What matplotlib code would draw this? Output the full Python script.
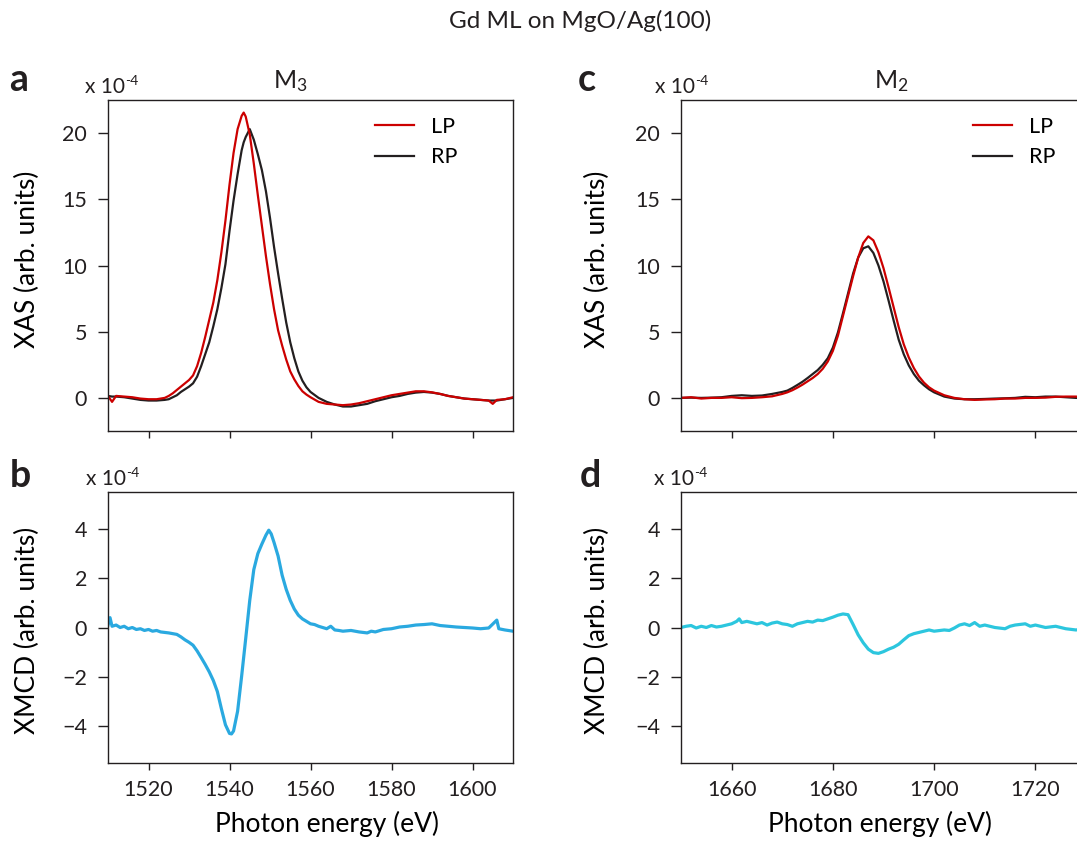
import matplotlib
matplotlib.use("Agg")
import matplotlib.pyplot as plt

plt.rcParams['font.family'] = ['Lato', 'DejaVu Sans']
plt.rcParams['mathtext.fontset'] = 'custom'
plt.rcParams['mathtext.rm'] = 'Lato'
plt.rcParams['mathtext.default'] = 'rm'

# ---- data (values in units of 1e-4) ----
e_m3 = [1510, 1511, 1512, 1514, 1516, 1518, 1520, 1522, 1524, 1525, 1526, 1527, 1528, 1529,
        1530, 1531, 1532, 1533, 1534, 1535, 1536, 1537, 1538, 1539, 1540, 1541, 1542, 1543,
        1543.5, 1544, 1545, 1546, 1547, 1548, 1549, 1550, 1551, 1552, 1553, 1554, 1555, 1556,
        1557, 1558, 1559, 1560, 1562, 1564, 1566, 1568, 1570, 1572, 1574, 1576, 1578, 1580,
        1582, 1584, 1586, 1588, 1590, 1592, 1594, 1596, 1598, 1600, 1602, 1604, 1605, 1606,
        1608, 1610]
lp_m3 = [0.15, -0.3, 0.15, 0.1, 0.05, -0.05, -0.1, -0.1, 0.0, 0.15, 0.35, 0.6, 0.85, 1.1,
         1.35, 1.7, 2.4, 3.4, 4.6, 5.9, 7.2, 8.9, 11.0, 13.4, 16.1, 18.5, 20.3, 21.3,
         21.55, 21.25, 19.9, 17.7, 15.3, 13.0, 10.7, 8.6, 6.7, 5.1, 3.95, 2.9, 2.0, 1.4,
         0.9, 0.5, 0.25, 0.05, -0.3, -0.45, -0.5, -0.55, -0.5, -0.4, -0.25, -0.1, 0.05, 0.2,
         0.3, 0.4, 0.5, 0.5, 0.42, 0.3, 0.15, 0.05, -0.05, -0.1, -0.15, -0.2, -0.45, -0.15,
         -0.1, 0.05]
rp_m3 = [0.15, 0.1, 0.1, 0.05, -0.05, -0.15, -0.2, -0.2, -0.15, -0.1, 0.05, 0.2, 0.45, 0.65,
         0.85, 1.1, 1.6, 2.4, 3.3, 4.2, 5.4, 6.7, 8.3, 10.1, 12.6, 14.9, 16.9, 18.7,
         19.3, 19.7, 20.3, 19.5, 18.4, 17.2, 15.6, 13.6, 11.4, 9.4, 7.5, 5.7, 4.2, 3.0,
         2.0, 1.3, 0.8, 0.45, 0.0, -0.3, -0.5, -0.65, -0.65, -0.55, -0.45, -0.25, -0.1, 0.05,
         0.15, 0.3, 0.4, 0.45, 0.4, 0.3, 0.15, 0.05, -0.05, -0.1, -0.15, -0.2, -0.2, -0.2,
         -0.1, 0.0]

e_xmcd_m3 = [1510, 1510.5, 1511, 1512, 1513, 1514, 1515, 1516, 1517, 1518, 1519, 1520, 1521,
             1522, 1523, 1524, 1525, 1526, 1527, 1528, 1529, 1530, 1531, 1532, 1533, 1534,
             1535, 1536, 1537, 1538, 1539, 1540, 1540.5, 1541, 1542, 1543, 1544, 1545, 1546,
             1547, 1548, 1549, 1549.7, 1550.3, 1551, 1552, 1553, 1554, 1555, 1556, 1557, 1558,
             1559, 1560, 1561, 1562, 1563, 1564, 1565, 1566, 1567, 1568, 1570, 1572, 1574,
             1575, 1576, 1578, 1580, 1582, 1584, 1586, 1588, 1590, 1592, 1594, 1596, 1598,
             1600, 1602, 1604, 1606, 1606.5, 1608, 1610]
xmcd_m3 = [0.1, 0.4, 0.05, 0.1, 0.0, 0.05, -0.05, 0.0, -0.08, -0.05, -0.12, -0.08, -0.15,
           -0.12, -0.18, -0.2, -0.22, -0.25, -0.28, -0.38, -0.5, -0.6, -0.72, -0.95, -1.22, -1.5,
           -1.8, -2.15, -2.6, -3.3, -3.95, -4.3, -4.32, -4.2, -3.4, -1.97, -0.45, 1.1, 2.35,
           3.0, 3.39, 3.75, 3.95, 3.8, 3.45, 2.9, 2.12, 1.55, 1.1, 0.75, 0.5, 0.35,
           0.25, 0.15, 0.12, 0.05, 0.0, -0.05, 0.05, -0.1, -0.12, -0.15, -0.12, -0.18, -0.22,
           -0.15, -0.18, -0.08, -0.05, 0.02, 0.05, 0.1, 0.12, 0.15, 0.08, 0.05, 0.02, 0.0,
           -0.02, -0.05, -0.02, 0.3, -0.05, -0.1, -0.15]

e_m2 = [1650, 1652, 1654, 1656, 1658, 1660, 1662, 1664, 1666, 1668, 1670, 1671, 1672, 1673,
        1674, 1675, 1676, 1677, 1678, 1679, 1680, 1681, 1682, 1683, 1684, 1685, 1686, 1687,
        1688, 1689, 1690, 1691, 1692, 1693, 1694, 1695, 1696, 1697, 1698, 1699, 1700, 1702,
        1704, 1706, 1708, 1710, 1712, 1714, 1716, 1718, 1720, 1722, 1724, 1726, 1728, 1730]
lp_m2 = [0.0, 0.05, -0.05, 0.0, 0.0, 0.05, -0.02, 0.0, 0.05, 0.12, 0.3, 0.42, 0.58, 0.78,
         1.0, 1.25, 1.5, 1.8, 2.2, 2.75, 3.55, 4.7, 6.2, 7.7, 9.2, 10.6, 11.7, 12.2,
         11.9, 11.0, 9.8, 8.35, 6.85, 5.35, 4.05, 3.05, 2.25, 1.62, 1.15, 0.8, 0.55, 0.2,
         0.0, -0.1, -0.15, -0.12, -0.1, -0.05, -0.05, 0.0, 0.0, 0.02, 0.08, 0.1, 0.1, 0.05]
rp_m2 = [0.0, 0.02, 0.0, 0.02, 0.05, 0.15, 0.2, 0.15, 0.18, 0.3, 0.45, 0.55, 0.75, 0.98,
         1.22, 1.5, 1.8, 2.1, 2.5, 3.0, 3.8, 4.95, 6.4, 7.9, 9.4, 10.6, 11.3, 11.45,
         10.95, 10.0, 8.8, 7.35, 5.85, 4.4, 3.3, 2.45, 1.8, 1.3, 0.95, 0.65, 0.42, 0.1,
         -0.05, -0.1, -0.1, -0.08, -0.05, -0.03, 0.0, 0.08, 0.05, 0.1, 0.1, 0.05, 0.0, 0.0]

e_xmcd_m2 = [1650, 1651, 1652, 1653, 1654, 1655, 1656, 1657, 1658, 1659, 1660, 1661, 1661.5,
             1662, 1663, 1664, 1665, 1666, 1667, 1668, 1669, 1670, 1671, 1672, 1673, 1674,
             1675, 1676, 1677, 1678, 1679, 1680, 1681, 1682, 1683, 1684, 1685, 1686, 1687,
             1688, 1689, 1690, 1691, 1692, 1693, 1694, 1695, 1696, 1697, 1698, 1699, 1700,
             1702, 1703, 1704, 1705, 1706, 1707, 1708, 1709, 1710, 1712, 1714, 1715, 1716,
             1718, 1719, 1720, 1722, 1724, 1726, 1728, 1730]
xmcd_m2 = [0.0, 0.05, 0.08, -0.02, 0.05, 0.0, 0.08, 0.02, 0.05, 0.1, 0.15, 0.25, 0.35,
           0.2, 0.25, 0.2, 0.15, 0.2, 0.1, 0.18, 0.22, 0.15, 0.12, 0.05, 0.15, 0.2,
           0.25, 0.22, 0.3, 0.28, 0.35, 0.42, 0.5, 0.55, 0.52, 0.12, -0.3, -0.62, -0.88,
           -1.02, -1.05, -0.98, -0.88, -0.8, -0.68, -0.5, -0.33, -0.25, -0.2, -0.15, -0.1, -0.15,
           -0.1, -0.12, -0.02, 0.1, 0.15, 0.08, 0.2, 0.05, 0.1, 0.0, -0.05, 0.05, 0.1,
           0.15, 0.05, 0.1, 0.0, 0.05, -0.05, -0.1, -0.05]

xas_ticks = [0, 5, 10, 15, 20]
xmcd_ticks = [-4, -2, 0, 2, 4]
m3_xticks = [1520, 1540, 1560, 1580, 1600]
m2_xticks = [1660, 1680, 1700, 1720]

RED = '#CC0000'
DARK = '#231F20'
BLUE_B = '#2AA9E0'
BLUE_D = '#2CC6DE'

W, H = 1077, 848
fig = plt.figure(figsize=(W / 100, H / 100), dpi=100)


def px_axes(left, top, right, bottom):
    return fig.add_axes([left / W, 1 - bottom / H, (right - left) / W, (bottom - top) / H])


def style(ax, xlim, ylim, xticks, yticks, show_xlabels):
    ax.set_xlim(*xlim)
    ax.set_ylim(*ylim)
    ax.set_xticks(xticks)
    ax.set_yticks(yticks)
    for sp in ax.spines.values():
        sp.set_linewidth(1.0)
        sp.set_color(DARK)
    ax.tick_params(axis='x', direction='out', length=5, width=1.0, pad=7,
                   labelsize=15.5, colors=DARK, labelbottom=show_xlabels)
    ax.tick_params(axis='y', direction='out', length=7, width=1.0, pad=8,
                   labelsize=15.5, colors=DARK)


ax_a = px_axes(108, 100, 513, 431)
ax_b = px_axes(108, 492, 513, 763)
ax_c = px_axes(681, 100, 1086, 431)
ax_d = px_axes(681, 492, 1086, 763)

# a: M3 XAS
ax_a.plot(e_m3, rp_m3, color=DARK, lw=1.6, label='RP')
ax_a.plot(e_m3, lp_m3, color=RED, lw=1.6, label='LP')
style(ax_a, (1510, 1610), (-2.5, 22.5), m3_xticks, xas_ticks, False)
ax_a.set_ylabel('XAS (arb. units)', fontsize=19)
ax_a.yaxis.set_label_coords(-0.168, 0.52)

# b: M3 XMCD
ax_b.plot(e_xmcd_m3, xmcd_m3, color=BLUE_B, lw=2.3)
style(ax_b, (1510, 1610), (-5.5, 5.5), m3_xticks, xmcd_ticks, True)
ax_b.set_ylabel('XMCD (arb. units)', fontsize=19)
ax_b.yaxis.set_label_coords(-0.168, 0.49)
ax_b.set_xlabel('Photon energy (eV)', fontsize=19)
ax_b.xaxis.set_label_coords(0.54, -0.175)

# c: M2 XAS
ax_c.plot(e_m2, rp_m2, color=DARK, lw=1.6, label='RP')
ax_c.plot(e_m2, lp_m2, color=RED, lw=1.6, label='LP')
style(ax_c, (1650, 1730), (-2.5, 22.5), m2_xticks, xas_ticks, False)
ax_c.set_ylabel('XAS (arb. units)', fontsize=19)
ax_c.yaxis.set_label_coords(-0.175, 0.52)

# d: M2 XMCD
ax_d.plot(e_xmcd_m2, xmcd_m2, color=BLUE_D, lw=2.3)
style(ax_d, (1650, 1730), (-5.5, 5.5), m2_xticks, xmcd_ticks, True)
ax_d.set_ylabel('XMCD (arb. units)', fontsize=19)
ax_d.yaxis.set_label_coords(-0.175, 0.49)
ax_d.set_xlabel('Photon energy (eV)', fontsize=19)
ax_d.xaxis.set_label_coords(0.491, -0.175)

# legends (LP first)
for ax, x0 in ((ax_a, 0.659), (ax_c, 0.721)):
    h, l = ax.get_legend_handles_labels()
    ax.legend(h[::-1], l[::-1], loc='upper left', bbox_to_anchor=(x0, 0.95),
              frameon=False, fontsize=15.5, handlelength=1.8, handletextpad=0.8,
              labelspacing=0.5, borderpad=0, borderaxespad=0)

# figure texts
fig.text(580 / W, 1 - 28 / H, 'Gd ML on MgO/Ag(100)', ha='center', va='baseline',
         fontsize=17.5, color=DARK)
for lbl, x, y in (('a', 19, 91), ('b', 20, 487), ('c', 587, 91), ('d', 590, 487)):
    fig.text(x / W, 1 - y / H, lbl, ha='center', va='baseline', fontsize=27,
             fontweight='bold', color=DARK)
# "x 10^-4" scale markers, exponent drawn as a raised small text
for x, y in ((85, 93), (86, 485), (655, 93), (654, 485)):
    fig.text(x / W, 1 - y / H, 'x 10', ha='left', va='baseline', fontsize=15, color=DARK)
    fig.text((x + 40) / W, 1 - (y - 8) / H, '-4', ha='left', va='baseline',
             fontsize=10, color=DARK)
fig.text(290 / W, 1 - 88 / H, r'M$_3$', ha='center', va='baseline', fontsize=18, color=DARK)
fig.text(891 / W, 1 - 88 / H, r'M$_2$', ha='center', va='baseline', fontsize=18, color=DARK)

fig.savefig('out.png', dpi=100)
